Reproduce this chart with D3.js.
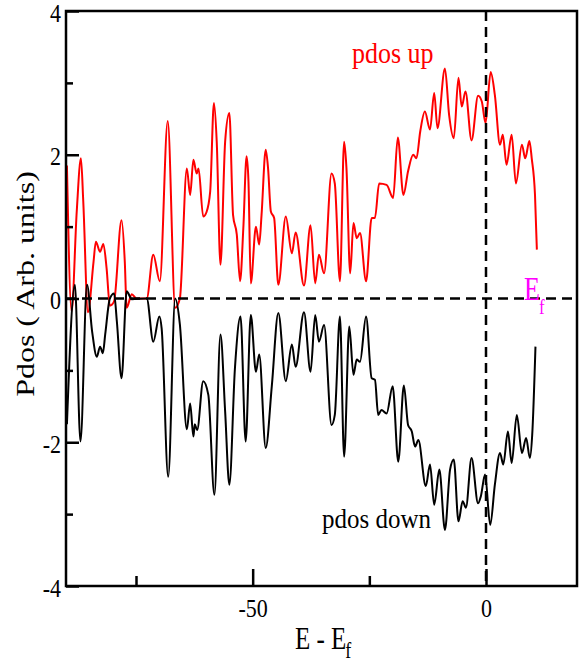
<!DOCTYPE html>
<html><head><meta charset="utf-8">
<script src="https://cdn.jsdelivr.net/npm/d3@7"></script>
<style>html,body{margin:0;padding:0;background:#fff;}</style>
</head><body>
<svg id="chart" width="579" height="665"></svg>
<script>
const energyUp = [-89.8,-88.8,-87.7,-86.8,-86.3,-85.3,-84.1,-83.6,-82.7,-82.0,-81.3,-80.6,-79.7,-78.1,-77.4,-77.0,-75.9,-74.9,-72.7,-71.3,-69.9,-68.2,-66.6,-65.6,-64.1,-63.4,-62.7,-62.0,-61.6,-60.6,-59.9,-59.1,-58.3,-57.7,-56.9,-55.9,-55.0,-54.2,-53.4,-52.7,-52.0,-51.3,-50.9,-50.4,-49.3,-48.6,-48.1,-47.2,-46.7,-46.1,-45.4,-44.5,-42.9,-41.6,-40.8,-39.0,-37.6,-36.6,-35.8,-34.7,-33.1,-32.4,-31.3,-30.4,-29.9,-29.1,-28.4,-27.7,-27.0,-25.7,-24.5,-23.8,-22.9,-21.3,-19.9,-18.9,-17.7,-16.7,-15.6,-14.9,-14.1,-13.1,-12.0,-11.1,-10.4,-8.8,-7.9,-6.9,-5.9,-5.2,-4.4,-3.1,-1.7,-0.9,-0.1,1.0,1.9,3.0,3.6,4.4,5.5,6.4,7.7,8.4,9.3,9.8,10.5,10.9];
const pdosUp = [1.85,-0.18,1.21,1.95,1.35,-0.19,0.51,0.79,0.65,0.76,0.42,-0.1,-0.04,1.09,0.51,-0.13,0.06,0,0,0.61,0.24,2.47,-0.13,0.0,1.81,1.44,1.93,1.74,1.81,1.14,1.2,1.49,2.72,2.18,0.47,2.18,2.58,1.16,0.89,0.24,0.98,1.98,1.63,0.21,1.0,0.75,1.16,2.07,1.81,1.21,1.12,0.19,1.14,0.63,0.92,0.18,1.02,0.21,0.61,0.35,1.74,1.6,0.24,2.18,1.81,0.35,1.05,0.84,0.91,0.24,1.12,1.12,1.6,1.58,1.4,2.24,1.44,1.77,2.0,1.95,2.32,2.6,2.35,2.86,2.37,3.2,2.55,2.23,3.07,2.67,2.88,2.2,2.82,2.74,2.44,3.15,2.83,2.14,2.28,1.86,2.28,1.6,2.14,1.95,2.19,1.95,1.44,0.68];

const energyDown = [-89.8,-88.1,-86.9,-85.5,-84.4,-83.4,-82.7,-82.1,-81.6,-80.6,-79.7,-79.1,-78.1,-77.0,-75.9,-72.7,-71.3,-70.0,-69.5,-68.1,-66.6,-65.6,-64.1,-63.4,-62.7,-62.4,-61.9,-60.6,-59.5,-58.2,-56.9,-55.9,-55.0,-53.8,-52.6,-51.5,-50.4,-49.3,-48.6,-47.2,-45.9,-44.5,-42.9,-41.6,-40.8,-39.0,-37.6,-36.6,-35.8,-34.7,-33.1,-32.4,-31.3,-30.4,-29.3,-28.4,-27.7,-27.0,-25.7,-24.5,-23.8,-23.1,-22.4,-21.3,-20.0,-18.8,-17.6,-16.7,-15.9,-15.2,-14.5,-12.9,-12.0,-11.1,-10.0,-8.8,-7.7,-6.9,-5.9,-5.0,-4.3,-3.1,-1.7,-1.1,-0.2,0.9,1.9,3.0,3.7,4.7,5.5,6.6,7.7,8.6,9.4,9.9,10.6];
const pdosDown = [-1.75,0.19,-1.99,0.19,-0.46,-0.81,-0.67,-0.76,-0.5,0.0,0.07,-0.32,-1.11,0.1,-0.01,0,-0.6,-0.25,-0.42,-2.48,0.0,-0.36,-1.82,-1.46,-1.92,-1.75,-1.83,-1.15,-1.34,-2.73,-0.5,-1.57,-2.59,-0.97,-0.25,-1.99,-0.23,-1.02,-0.78,-2.08,-1.22,-0.2,-1.15,-0.64,-0.95,-0.19,-1.02,-0.23,-0.6,-0.37,-1.76,-1.62,-0.25,-2.2,-0.39,-1.06,-0.85,-0.88,-0.25,-1.11,-1.13,-1.62,-1.55,-1.6,-1.22,-2.27,-1.21,-1.76,-1.85,-2.06,-1.97,-2.61,-2.31,-2.87,-2.38,-3.22,-2.38,-2.24,-3.1,-2.82,-2.91,-2.22,-2.85,-2.75,-2.45,-3.15,-2.59,-2.15,-2.31,-1.85,-2.29,-1.62,-2.15,-1.94,-2.22,-1.9,-0.67];

const xMajorTicks = [-50, 0];
const xMinorTicks = [-75, -25];
const yMajorTicks = [-4, -2, 0, 2, 4];
const yMinorTicks = [-3, -1, 1, 3];
const xDomain = [-90, 19.5];
const yDomain = [-4, 4];

const svg = d3.select("#chart");
const serif = "'Liberation Serif','Times New Roman',serif";
const x = d3.scaleLinear().domain(xDomain).range([66, 577]);
const y = d3.scaleLinear().domain(yDomain).range([586, 11]);
const fmt = d => String(d);

// curves
const line = d3.line().x(d => x(d[0])).y(d => y(d[1])).curve(d3.curveMonotoneX);
svg.append("path").datum(d3.zip(energyUp, pdosUp))
  .attr("d", line).attr("fill", "none").attr("stroke", "#ff0000").attr("stroke-width", 2);
svg.append("path").datum(d3.zip(energyDown, pdosDown))
  .attr("d", line).attr("fill", "none").attr("stroke", "#000").attr("stroke-width", 2);

// dashed reference lines
svg.append("line").attr("x1", x(xDomain[0])).attr("x2", x(xDomain[1]))
  .attr("y1", y(0)).attr("y2", y(0))
  .attr("stroke", "#000").attr("stroke-width", 2.5).attr("stroke-dasharray", "10,6");
svg.append("line").attr("x1", x(0)).attr("x2", x(0))
  .attr("y1", y(yDomain[1])).attr("y2", y(yDomain[0]))
  .attr("stroke", "#000").attr("stroke-width", 2.5).attr("stroke-dasharray", "10,6");

// frame
svg.append("rect").attr("x", x(xDomain[0])).attr("y", y(yDomain[1]))
  .attr("width", x(xDomain[1]) - x(xDomain[0])).attr("height", y(yDomain[0]) - y(yDomain[1]))
  .attr("fill", "none").attr("stroke", "#000").attr("stroke-width", 2.5);

// axes
function styleAxis(g) {
  g.select(".domain").remove();
  g.selectAll(".tick line").attr("stroke", "#000").attr("stroke-width", 2.5);
  g.selectAll("text").attr("fill", "#000").style("font-family", serif).style("font-size", "22px");
}
const gx = svg.append("g").attr("transform", `translate(0,${y(yDomain[0])})`)
  .call(d3.axisBottom(x).tickValues(xMajorTicks).tickSize(-17).tickFormat(fmt));
styleAxis(gx);
gx.selectAll("text").attr("y", 0).attr("dy", null).attr("transform", "translate(0,31) scale(1,1.15)");
const gxm = svg.append("g").attr("transform", `translate(0,${y(yDomain[0])})`)
  .call(d3.axisBottom(x).tickValues(xMinorTicks).tickSize(-10).tickFormat(""));
styleAxis(gxm);

const gy = svg.append("g").attr("transform", `translate(${x(xDomain[0])},0)`)
  .call(d3.axisLeft(y).tickValues(yMajorTicks).tickSize(-13).tickFormat(fmt));
styleAxis(gy);
gy.selectAll("text").attr("x", 0).attr("dy", null).attr("text-anchor", "end")
  .attr("transform", "translate(-5,10) scale(1,1.12)");
const gym = svg.append("g").attr("transform", `translate(${x(xDomain[0])},0)`)
  .call(d3.axisLeft(y).tickValues(yMinorTicks).tickSize(-7).tickFormat(""));
styleAxis(gym);

// titles
const xt = svg.append("text").attr("transform", "translate(295,649) scale(1,1.28)")
  .style("font-family", serif).style("font-size", "25px").attr("fill", "#000");
xt.append("tspan").text("E - E");
xt.append("tspan").attr("dy", 7).attr("dx", -1).style("font-size", "18px").text("f");

svg.append("text").attr("transform", "translate(34,284) rotate(-90) scale(1.28,1)")
  .attr("text-anchor", "middle").style("font-family", serif).style("font-size", "25px")
  .attr("fill", "#000").text("Pdos ( Arb. units)");

// annotations
svg.append("text").attr("transform", "translate(352,63) scale(1,1.12)")
  .style("font-family", serif).style("font-size", "26px").attr("fill", "#ff0000").text("pdos up");
svg.append("text").attr("transform", "translate(322,528) scale(1,1.12)")
  .style("font-family", serif).style("font-size", "25px").attr("fill", "#000").text("pdos down");
const ef = svg.append("text").attr("transform", "translate(524,300) scale(1,1.28)")
  .style("font-family", serif).style("font-size", "26px").attr("fill", "#ff00ff");
ef.append("tspan").text("E");
ef.append("tspan").attr("dy", 11).attr("dx", -1).style("font-size", "17px").text("f");
</script>
</body></html>
